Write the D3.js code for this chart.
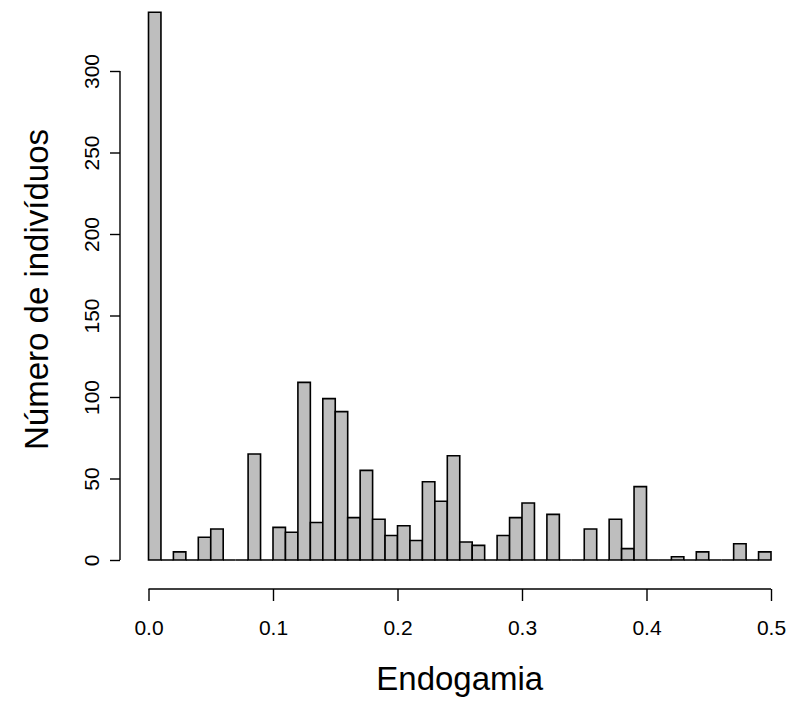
<!DOCTYPE html>
<html>
<head>
<meta charset="utf-8">
<script src="https://cdn.jsdelivr.net/npm/d3@7"></script>
<style>
  body { margin: 0; background: #fff; }
  svg { display: block; font-family: "Liberation Sans", Arial, sans-serif; }
</style>
</head>
<body>
<svg id="hist" width="791" height="702"></svg>
<script>
// histogram of inbreeding coefficient, bins of 0.01
var breaks = [0.00, 0.01, 0.02, 0.03, 0.04, 0.05, 0.06, 0.07, 0.08, 0.09,
              0.10, 0.11, 0.12, 0.13, 0.14, 0.15, 0.16, 0.17, 0.18, 0.19,
              0.20, 0.21, 0.22, 0.23, 0.24, 0.25, 0.26, 0.27, 0.28, 0.29,
              0.30, 0.31, 0.32, 0.33, 0.34, 0.35, 0.36, 0.37, 0.38, 0.39,
              0.40, 0.41, 0.42, 0.43, 0.44, 0.45, 0.46, 0.47, 0.48, 0.49, 0.50];
var counts = [336, 0, 5, 0, 14, 19, 0, 0, 65, 0,
              20, 17, 109, 23, 99, 91, 26, 55, 25, 15,
              21, 12, 48, 36, 64, 11, 9, 0, 15, 26,
              35, 0, 28, 0, 0, 19, 0, 25, 7, 45,
              0, 0, 2, 0, 5, 0, 0, 10, 0, 5];
var xTicks = [0, 0.1, 0.2, 0.3, 0.4, 0.5];
var yTicks = [0, 50, 100, 150, 200, 250, 300];
var xTitle = "Endogamia";
var yTitle = "Número de indivíduos";

var font = "'Liberation Sans', Arial, sans-serif";
var svg = d3.select("#hist");

var x = d3.scaleLinear().domain([0, 0.5]).range([148.5, 771]);
var y = d3.scaleLinear().domain([0, 300]).range([560, 71]);

var bins = counts.map(function(c, i) {
    return { x0: breaks[i], x1: breaks[i + 1], n: c };
});

// paths instead of rects so empty bins still show as a line on the base
svg.append("g")
   .selectAll("path")
   .data(bins)
   .enter().append("path")
   .attr("d", function(d) {
       return "M" + x(d.x0) + "," + y(0) + "V" + y(d.n) + "H" + x(d.x1) + "V" + y(0) + "Z";
   })
   .attr("fill", "#bebebe")
   .attr("stroke", "#000")
   .attr("stroke-width", 1.6)
   .attr("stroke-linejoin", "miter");

// x axis, R style: detached below the plot
var xAxis = svg.append("g")
   .attr("transform", "translate(0,589)")
   .call(d3.axisBottom(x).tickValues(xTicks).tickFormat(d3.format(".1f")).tickSize(12).tickPadding(20));
xAxis.attr("font-family", font).attr("font-size", 21);
xAxis.select(".domain").attr("d", "M" + x(0) + ",0H" + x(0.5)).attr("stroke-width", 1.4);
xAxis.selectAll(".tick line").attr("stroke-width", 1.4);
xAxis.selectAll("text").attr("fill", "#000").attr("dy", "0.66em");

// y axis with labels parallel to the axis
var yAxis = svg.append("g")
   .attr("transform", "translate(120,0)")
   .call(d3.axisLeft(y).tickValues(yTicks).tickSize(10));
yAxis.attr("font-family", font).attr("font-size", 21);
yAxis.select(".domain").attr("d", "M0," + y(0) + "V" + y(300)).attr("stroke-width", 1.4);
yAxis.selectAll(".tick line").attr("stroke-width", 1.4);
yAxis.selectAll("text")
     .attr("fill", "#000")
     .attr("text-anchor", "middle")
     .attr("x", 0)
     .attr("dy", 0)
     .attr("transform", "translate(-21,0) rotate(-90)");

svg.append("text")
   .attr("x", (x(0) + x(0.5)) / 2)
   .attr("y", 690)
   .attr("text-anchor", "middle")
   .attr("font-size", "33px")
   .text(xTitle);

svg.append("text")
   .attr("transform", "translate(48," + ((y(0) + y(300)) / 2 - 26) + ") rotate(-90)")
   .attr("text-anchor", "middle")
   .attr("font-size", "33px")
   .text(yTitle);
</script>
</body>
</html>
